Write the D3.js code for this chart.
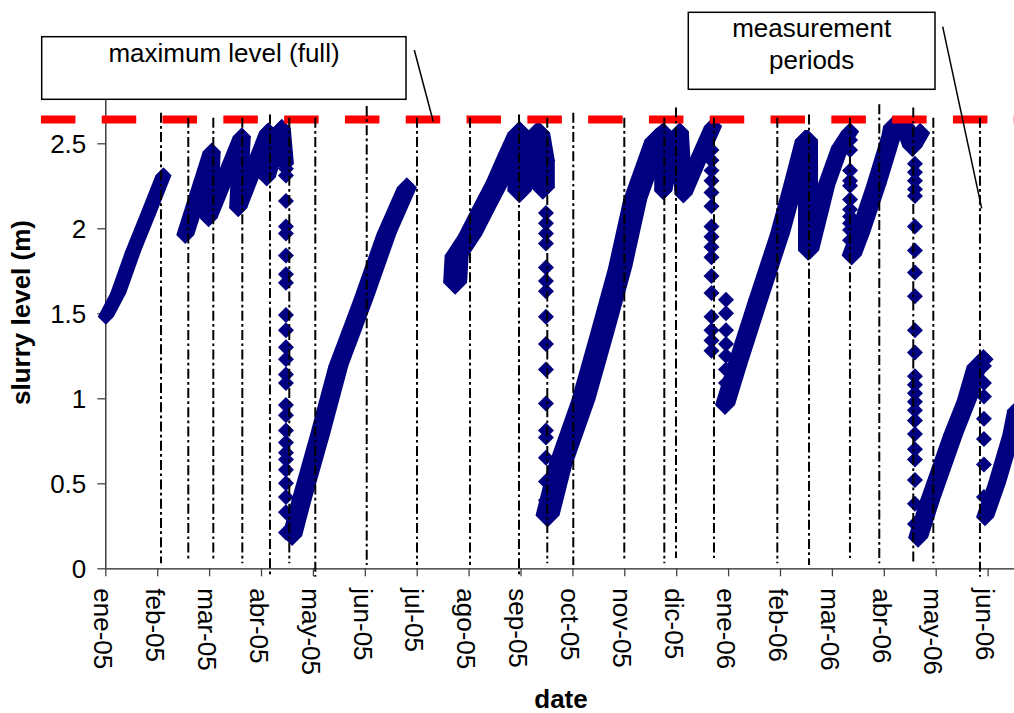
<!DOCTYPE html>
<html><head><meta charset="utf-8">
<script src="https://cdn.jsdelivr.net/npm/d3@7"></script>
<style>body{margin:0;background:#fff}svg{display:block}text{font-family:"Liberation Sans",Arial,sans-serif}</style>
</head><body>
<script>
// ---------- data ----------
const monthLabels = ["ene-05","feb-05","mar-05","abr-05","may-05","jun-05","jul-05","ago-05","sep-05","oct-05","nov-05","dic-05","ene-06","feb-06","mar-06","abr-06","may-06","jun-06"];
const yTicks = [0, 0.5, 1, 1.5, 2, 2.5];
const maxLevel = 2.64;
const maxLineFrom = -1.24, maxLineTo = 18;

// continuous runs of slurry level (x = months since ene-05, y = m)
const runA_t = [0.01, 0.25, 0.53, 0.82, 1.12];
const runA_v = [1.48, 1.62, 1.86, 2.08, 2.31];
const runB_t = [1.54, 2.05, 1.99, 2.63, 2.56, 3.14, 3.11, 3.40, 3.46];
const runB_v = [1.96, 2.45, 2.06, 2.54, 2.12, 2.57, 2.30, 2.59, 2.38];
const runC_t = [3.60, 3.78, 4.14, 4.49, 4.97, 5.42, 5.81];
const runC_v = [0.19, 0.40, 0.79, 1.19, 1.58, 1.97, 2.24];
const runD_t = [6.74, 6.77, 7.03, 7.28, 7.57, 7.80, 7.98, 7.98, 8.13, 8.34, 8.43, 8.43];
const runD_v = [1.68, 1.84, 1.96, 2.11, 2.28, 2.44, 2.56, 2.22, 2.40, 2.56, 2.40, 2.24];
const runE_t = [8.52, 8.76, 9.21, 9.57, 9.92, 10.21, 10.62, 10.75];
const runE_v = [0.31, 0.60, 0.99, 1.38, 1.77, 2.17, 2.52, 2.55];
const runE2_t = [10.75, 10.75, 10.92, 11.07, 11.14, 11.42, 11.71];
const runE2_v = [2.57, 2.22, 2.45, 2.57, 2.20, 2.40, 2.60];
const runF_t = [11.94, 12.17, 12.58, 13.00, 13.26, 13.48, 13.54, 13.54];
const runF_v = [0.96, 1.19, 1.58, 1.97, 2.26, 2.52, 2.52, 1.87];
const runF2_t = [13.58, 13.89, 14.16, 14.35];
const runF2_v = [1.87, 2.25, 2.48, 2.57];
const runF3_t = [14.38, 14.54, 14.86, 15.15, 15.18, 15.41, 15.55, 15.70];
const runF3_v = [1.84, 1.97, 2.26, 2.55, 2.60, 2.60, 2.48, 2.56];
const runG_t = [15.66, 15.89, 16.34, 16.60, 16.79, 16.92];
const runG_v = [0.18, 0.40, 0.79, 0.99, 1.19, 1.23];
const runH_t = [16.95, 17.18, 17.46, 17.55];
const runH_v = [0.30, 0.50, 0.79, 0.93];

// emptying events: scattered readings at one date
const drop1_t = 3.48;
const drop1_v = [2.35, 2.31, 2.16, 2.01, 1.97, 1.84, 1.73, 1.68, 1.49, 1.40, 1.30, 1.23, 1.14, 1.09, 0.96, 0.90, 0.81, 0.74, 0.68, 0.64, 0.58, 0.50, 0.42, 0.33, 0.21];
const drop2_t = 8.49;
const drop2_v = [2.09, 2.03, 1.97, 1.91, 1.77, 1.69, 1.63, 1.48, 1.32, 1.17, 0.97, 0.81, 0.77, 0.65, 0.51, 0.40, 0.32];
const drop3_t = 11.68;
const drop3_v = [2.46, 2.40, 2.34, 2.28, 2.21, 2.13, 2.01, 1.95, 1.89, 1.83, 1.72, 1.62, 1.48, 1.40, 1.34, 1.28];
const drop3b_t = 11.96;
const drop3b_v = [1.58, 1.50, 1.40, 1.32, 1.25, 1.17, 1.09];
const drop4_t = 14.35;
const drop4_v = [2.52, 2.46, 2.34, 2.28, 2.25, 2.17, 2.11, 2.07, 2.03, 1.99, 1.93];
const drop5_t = 15.60;
const drop5_v = [2.50, 2.38, 2.33, 2.28, 2.23, 2.19, 2.01, 1.87, 1.74, 1.60, 1.40, 1.27, 1.13, 1.08, 1.03, 0.98, 0.93, 0.87, 0.79, 0.70, 0.64, 0.52, 0.38, 0.26];
const drop6_t = 16.93;
const drop6_v = [1.19, 1.09, 1.01, 0.88, 0.76, 0.61, 0.42];

// measurement period boundaries
const periodT      = [1.073, 1.599, 2.081, 2.640, 3.173, 3.545, 4.046, 5.037, 6.006, 7.027, 7.971, 8.516, 9.017, 10.000, 10.771, 10.996, 11.728, 12.948, 13.559, 14.348, 14.913, 15.568, 15.954, 16.853];
const periodTop    = [2.68, 2.65, 2.65, 2.65, 2.67, 2.65, 2.65, 2.72, 2.65, 2.65, 2.67, 2.65, 2.68, 2.65, 2.65, 2.71, 2.65, 2.65, 2.67, 2.65, 2.73, 2.71, 2.65, 2.65];
const periodBottom = [0.03, 0.05, 0.05, 0.03, -0.045, 0.03, -0.05, 0.02, 0.02, 0.02, -0.04, 0.03, 0.02, 0.04, 0.03, 0.06, 0.06, 0.03, 0.02, 0.06, 0.03, 0.03, 0.03, -0.05];

// ---------- drawing ----------
const W = 1014, H = 713;
const svg = d3.select("body").append("svg").attr("width", W).attr("height", H);
const x = d3.scaleLinear().domain([0, 18]).range([105.3, 105.3 + 18 * 51.9]);
const y = d3.scaleLinear().domain([0, 2.76]).range([568.3, 568.3 - 2.76 * 170]);
const NAVY = "#000080";

// axes
const yAxis = svg.append("g").attr("transform", `translate(${x(0)},0)`)
  .call(d3.axisLeft(y).tickValues(yTicks).tickSize(8).tickSizeOuter(0).tickPadding(11).tickFormat(d => String(d)));
const xAxis = svg.append("g").attr("transform", `translate(0,${y(0)})`)
  .call(d3.axisBottom(x).tickValues(d3.range(0, 18)).tickSize(8).tickSizeOuter(0).tickFormat(i => monthLabels[i]));
[yAxis, xAxis].forEach(g => {
  g.select(".domain").attr("stroke", "#222").attr("stroke-width", 1.3);
  g.selectAll(".tick line").attr("stroke", "#444").attr("stroke-width", 1.3);
  g.selectAll("text").attr("font-size", 26).attr("fill", "#000").style("font-family", '"Liberation Sans",Arial,sans-serif');
});
yAxis.selectAll("text").attr("dy", "0.36em");
xAxis.selectAll("text").attr("transform", "rotate(90)").attr("text-anchor", "start")
  .attr("x", 20).attr("y", 0).attr("dy", "0.45em");

// data bands (diamond marker swept along each run)
function diamondPts(px, py, r) { return [[px, py - r], [px + r, py], [px, py + r], [px - r, py]]; }
function sweepRun(ts, vs, r) {
  const g = svg.append("g").attr("fill", NAVY);
  for (let i = 0; i < ts.length; i++) {
    const p = [x(ts[i]), y(vs[i])];
    if (i < ts.length - 1) {
      const q = [x(ts[i + 1]), y(vs[i + 1])];
      const hull = d3.polygonHull(diamondPts(p[0], p[1], r).concat(diamondPts(q[0], q[1], r)));
      g.append("path").attr("d", "M" + hull.join("L") + "Z");
    } else {
      g.append("path").attr("d", "M" + diamondPts(p[0], p[1], r).join("L") + "Z");
    }
  }
}
const runs = [
  [runA_t, runA_v, 8], [runB_t, runB_v, 9], [runC_t, runC_v, 10], [runD_t, runD_v, 12],
  [runE_t, runE_v, 12], [runE2_t, runE2_v, 9], [runF_t, runF_v, 10], [runF2_t, runF2_v, 9],
  [runF3_t, runF3_v, 10], [runG_t, runG_v, 10], [runH_t, runH_v, 9]
];
runs.forEach(([t, v, r]) => sweepRun(t, v, r));

const drops = [[drop1_t, drop1_v], [drop2_t, drop2_v], [drop3_t, drop3_v], [drop3b_t, drop3b_v],
               [drop4_t, drop4_v], [drop5_t, drop5_v], [drop6_t, drop6_v]];
drops.forEach(([t, vs]) => {
  svg.append("g").attr("fill", NAVY).selectAll("path").data(vs).join("path")
    .attr("d", v => "M" + diamondPts(x(t), y(v), 8).join("L") + "Z");
});

// maximum level line
svg.append("line").attr("x1", x(maxLineFrom)).attr("x2", x(maxLineTo))
  .attr("y1", y(maxLevel)).attr("y2", y(maxLevel))
  .attr("stroke", "#ff0000").attr("stroke-width", 8).attr("stroke-dasharray", "34.5,26.3");

// measurement periods
svg.append("g").selectAll("line").data(periodT).join("line")
  .attr("x1", d => x(d)).attr("x2", d => x(d))
  .attr("y1", (d, i) => y(periodTop[i])).attr("y2", (d, i) => y(periodBottom[i]))
  .attr("stroke", "#000").attr("stroke-width", 2).attr("stroke-dasharray", "10,3.3,2.7,3.3");

// axis titles
svg.append("text").attr("x", 561).attr("y", 707.5).attr("text-anchor", "middle")
  .attr("font-size", 26).attr("font-weight", "bold").text("date");
svg.append("text").attr("transform", "translate(30,312.5) rotate(-90)").attr("text-anchor", "middle")
  .attr("font-size", 26).attr("font-weight", "bold").text("slurry level (m)");

// callouts
svg.append("rect").attr("x", 41.7).attr("y", 36.7).attr("width", 364.3).attr("height", 62.6)
  .attr("fill", "#fff").attr("stroke", "#000").attr("stroke-width", 1.5);
svg.append("text").attr("x", 224).attr("y", 61.7).attr("text-anchor", "middle").attr("font-size", 26).text("maximum level (full)");
svg.append("line").attr("x1", 414.3).attr("y1", 50).attr("x2", 433.3).attr("y2", 121.7).attr("stroke", "#000").attr("stroke-width", 1.5);

svg.append("rect").attr("x", 688.3).attr("y", 12.3).attr("width", 246.7).attr("height", 77)
  .attr("fill", "#fff").attr("stroke", "#000").attr("stroke-width", 1.5);
svg.append("text").attr("x", 811.7).attr("y", 37.3).attr("text-anchor", "middle").attr("font-size", 26).text("measurement");
svg.append("text").attr("x", 811.7).attr("y", 68.8).attr("text-anchor", "middle").attr("font-size", 26).text("periods");
svg.append("line").attr("x1", 942.7).attr("y1", 26.7).attr("x2", 981.7).attr("y2", 208.3).attr("stroke", "#000").attr("stroke-width", 1.5);
</script>
</body></html>
